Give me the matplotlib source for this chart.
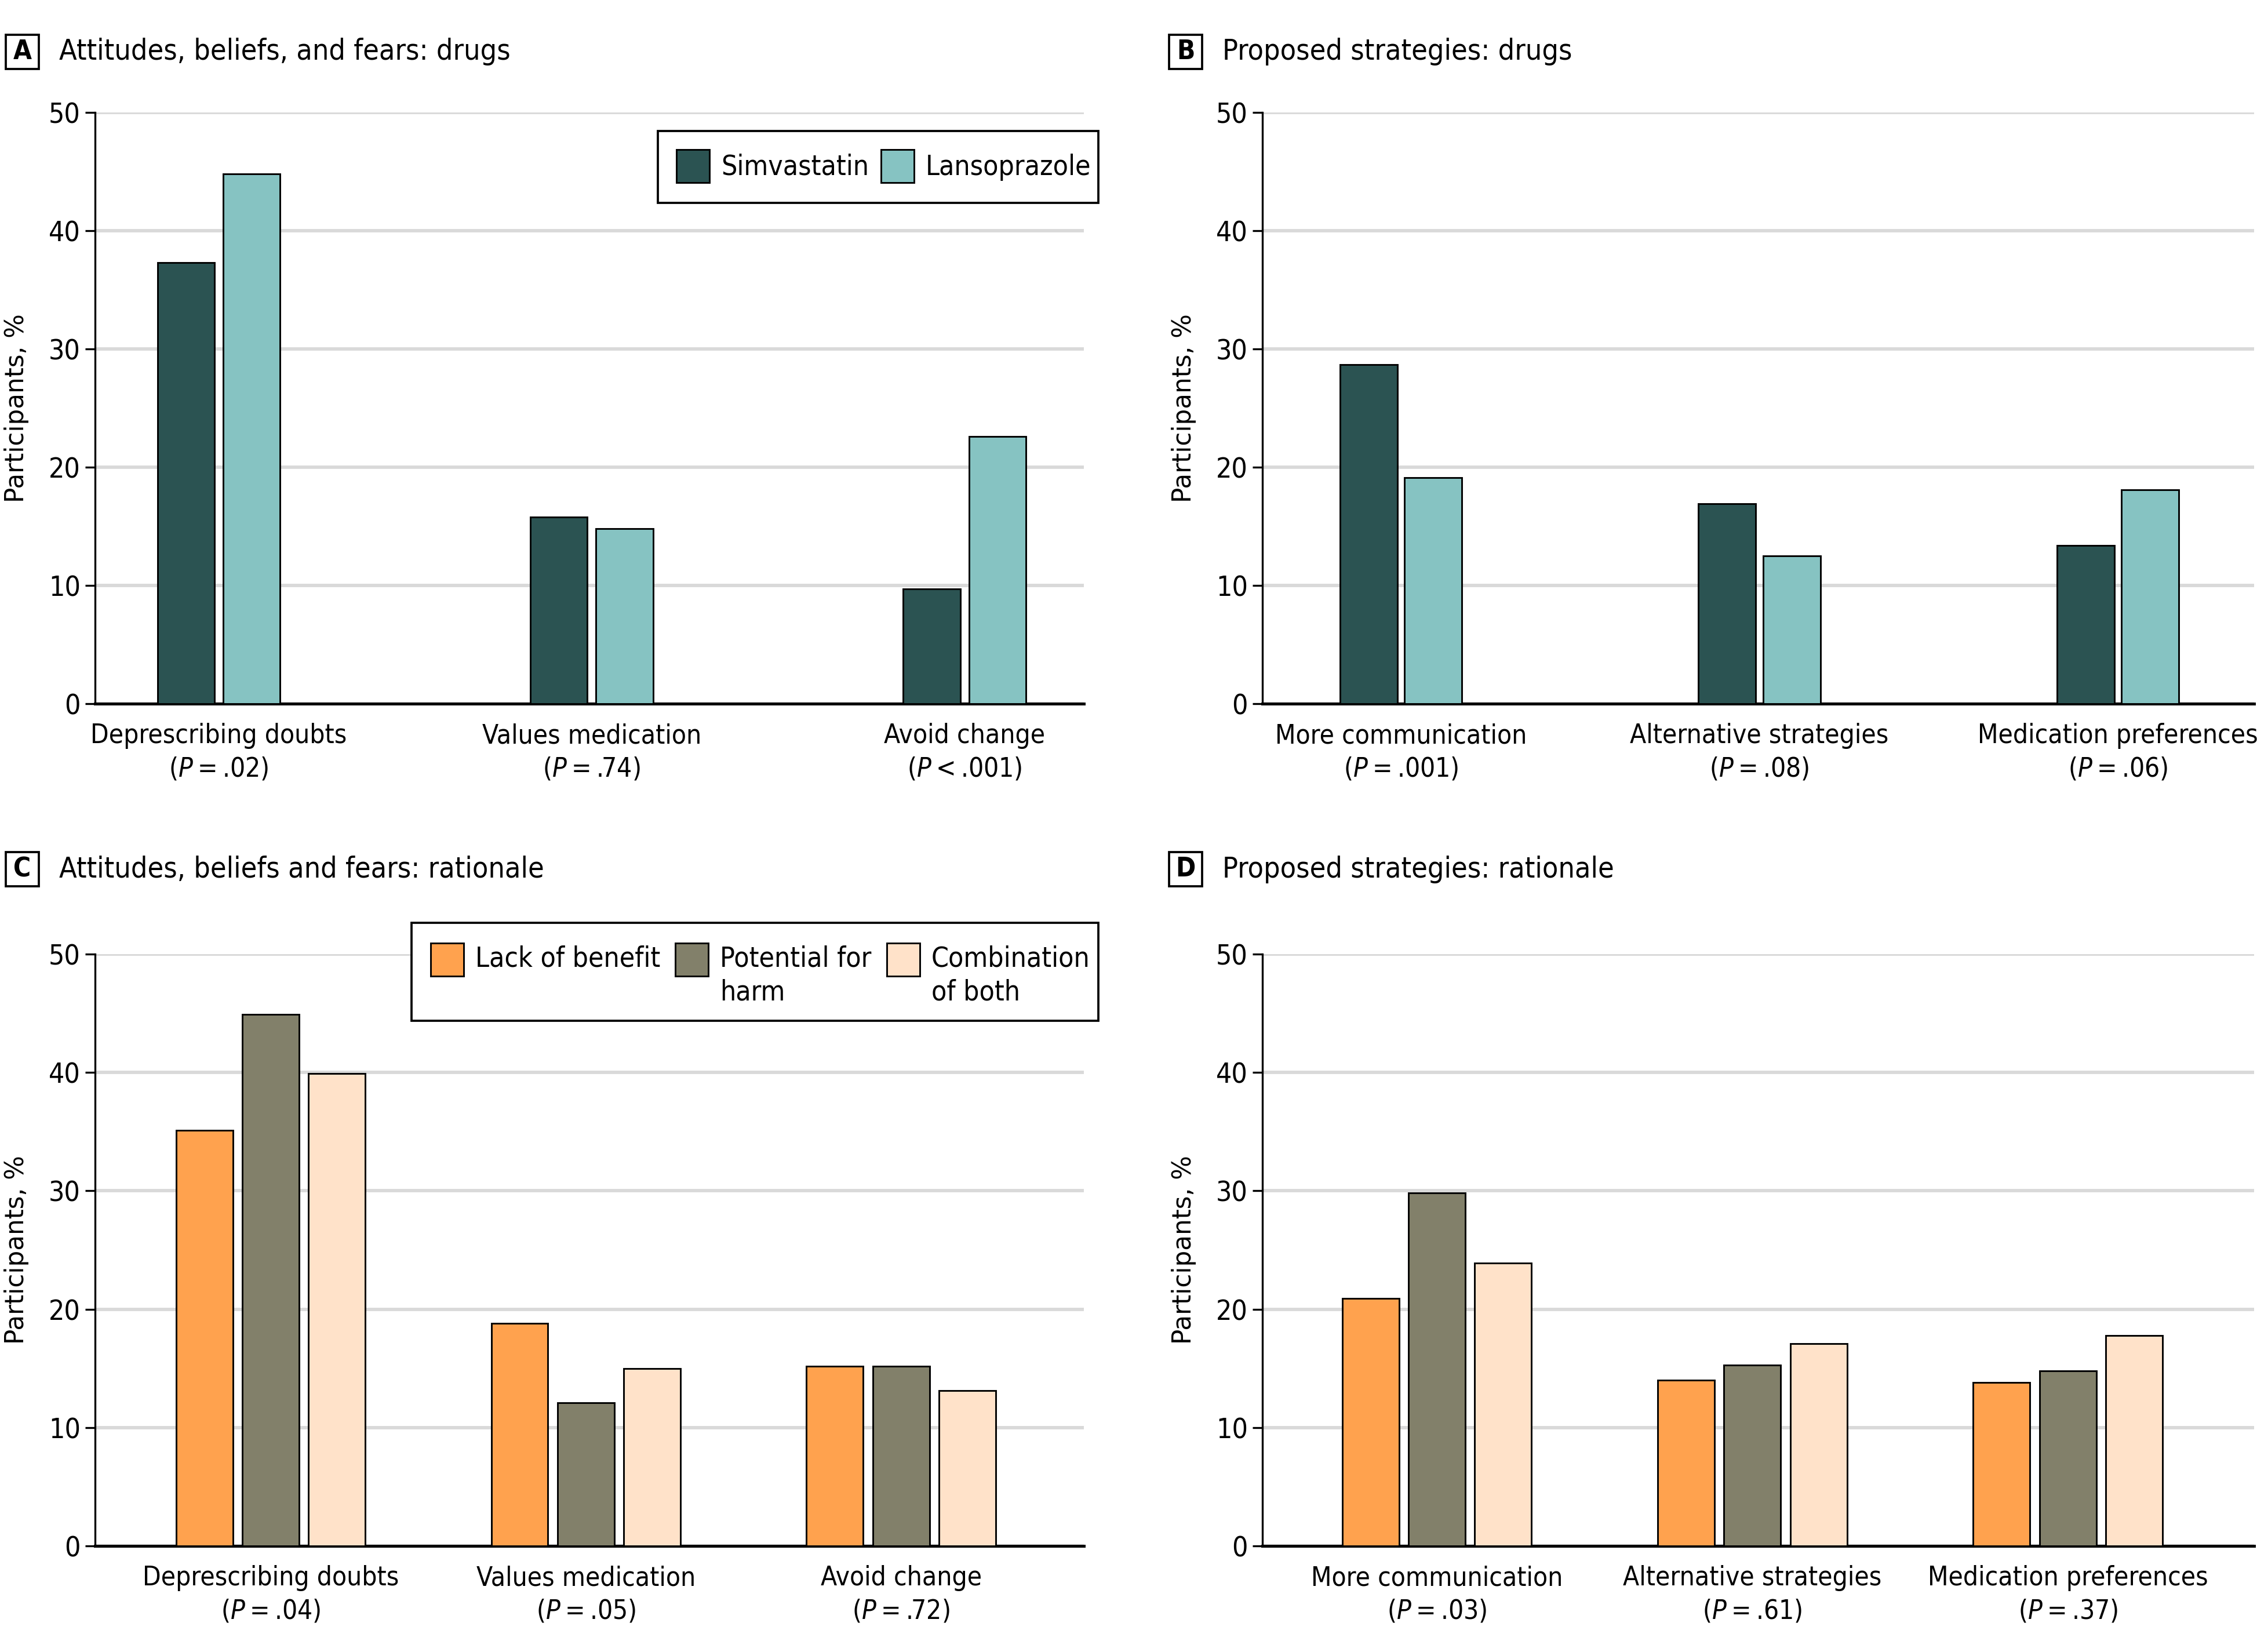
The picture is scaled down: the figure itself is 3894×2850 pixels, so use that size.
import matplotlib
matplotlib.use('Agg')
import matplotlib.pyplot as plt
import matplotlib.font_manager as fm
import numpy as np
from matplotlib.patches import Rectangle

# pick a narrow face if one is installed
cond = [f for f in fm.fontManager.ttflist
        if f.name == 'DejaVu Sans' and f.stretch == 'condensed' and f.style == 'normal']
if cond:
    plt.rcParams['font.family'] = ['DejaVu Sans']
    plt.rcParams['font.stretch'] = 'condensed'
else:
    plt.rcParams['font.family'] = ['Liberation Sans', 'DejaVu Sans']
plt.rcParams['mathtext.fontset'] = 'custom'
plt.rcParams['mathtext.rm'] = plt.rcParams['font.family'][0]
plt.rcParams['mathtext.it'] = plt.rcParams['font.family'][0] + ':italic'

FS = 11

# panel A / B: drug groups
drug_names = ['Simvastatin', 'Lansoprazole']
drug_colors = ['#2b5352', '#86c3c2']
attitude_cats = ['Deprescribing doubts', 'Values medication', 'Avoid change']
attitude_p_drugs = ['=', '=', '<']
attitude_p_vals = ['.02', '.74', '.001']
attitude_simva = [37.3, 15.8, 9.7]
attitude_lanso = [44.8, 14.8, 22.6]

strategy_cats = ['More communication', 'Alternative strategies', 'Medication preferences']
strategy_p_drugs = ['=', '=', '=']
strategy_p_vals = ['.001', '.08', '.06']
strategy_simva = [28.7, 16.9, 13.4]
strategy_lanso = [19.1, 12.5, 18.1]

# panel C / D: rationale groups
rationale_names = ['Lack of benefit', 'Potential for\nharm', 'Combination\nof both']
rationale_colors = ['#ffa24e', '#82806a', '#ffe2c9']
attitude_p_rat = ['.04', '.05', '.72']
attitude_lack = [35.1, 18.8, 15.2]
attitude_harm = [44.9, 12.1, 15.2]
attitude_comb = [39.9, 15.0, 13.1]

strategy_p_rat = ['.03', '.61', '.37']
strategy_lack = [20.9, 14.0, 13.8]
strategy_harm = [29.8, 15.3, 14.8]
strategy_comb = [23.9, 17.1, 17.8]

W, H = 3894, 2850
fig = plt.figure(figsize=(W / 300, H / 300), dpi=300)


def fx(px):
    return px / W


def fy(py):
    return 1 - py / H


def style_axes(ax, xlim, label_px):
    ax.set_ylim(0, 50)
    ax.set_xlim(*xlim)
    ax.set_yticks(range(0, 51, 10))
    ax.yaxis.grid(True, color='#d9d9d9', lw=1.4)
    ax.set_axisbelow(True)
    for s in ['top', 'right']:
        ax.spines[s].set_visible(False)
    ax.spines['left'].set_linewidth(0.8)
    ax.spines['bottom'].set_linewidth(1.2)
    ax.tick_params(axis='y', length=4, width=0.8, labelsize=FS + 0.5, pad=2)
    ax.tick_params(axis='x', length=0, labelsize=FS, pad=8)
    ax.set_ylabel('Participants, %', family='DejaVu Sans', fontstretch='normal',
                  fontsize=10.5)
    left = ax.get_position().x0 * W
    width = ax.get_position().width * W
    ax.yaxis.set_label_coords(-(left - label_px) / width, 0.5)


def draw_bars(ax, series, colors, width, step):
    x = np.arange(len(series[0]))
    n = len(series)
    for i, (vals, c) in enumerate(zip(series, colors)):
        ax.bar(x + (i - (n - 1) / 2) * step, vals, width, color=c,
               edgecolor='black', linewidth=0.7, zorder=3)
    return x


def set_cat_labels(ax, x, cats, signs, vals):
    ax.set_xticks(x)
    ax.set_xticklabels([f'{c}\n($\\it{{P}}$\u2009{s}\u2009{v})'
                        for c, s, v in zip(cats, signs, vals)], linespacing=1.35)


def panel_title(letter, x0, yc, text):
    bw, bh = 57, 59
    fig.add_artist(Rectangle((fx(x0), fy(yc + bh / 2)), bw / W, bh / H,
                             transform=fig.transFigure, fill=False, lw=0.9,
                             edgecolor='black'))
    fig.text(fx(x0 + bw / 2), fy(yc), letter, ha='center', va='center',
             fontsize=FS, fontweight='bold')
    fig.text(fx(x0 + 92), fy(yc), text, ha='left', va='center', fontsize=12)


def box_legend(box, names, colors, patch_x, text_x, patch_y, text_y, va):
    x0, y0, x1, y1 = box
    fig.add_artist(Rectangle((fx(x0), fy(y1)), (x1 - x0) / W, (y1 - y0) / H,
                             transform=fig.transFigure, facecolor='white',
                             edgecolor='black', lw=0.9, zorder=5))
    for name, c, px, tx in zip(names, colors, patch_x, text_x):
        fig.add_artist(Rectangle((fx(px), fy(patch_y + 57)), 57 / W, 57 / H,
                                 transform=fig.transFigure, facecolor=c,
                                 edgecolor='black', lw=0.7, zorder=6))
        fig.text(fx(tx), fy(text_y), name, ha='left', va=va, fontsize=FS + 0.5,
                 zorder=7, linespacing=1.32)


axA = fig.add_axes([fx(164), fy(1214), (1870 - 164) / W, (1214 - 194) / H])
axB = fig.add_axes([fx(2178), fy(1214), (3889 - 2178) / W, (1214 - 194) / H])
axC = fig.add_axes([fx(164), fy(2667), (1870 - 164) / W, (2667 - 1646) / H])
axD = fig.add_axes([fx(2178), fy(2667), (3889 - 2178) / W, (2667 - 1646) / H])

# A
x = draw_bars(axA, [attitude_simva, attitude_lanso], drug_colors, 0.153, 0.176)
style_axes(axA, (-0.332, 2.32), 50)
set_cat_labels(axA, x, attitude_cats, attitude_p_drugs, attitude_p_vals)

# B
x = draw_bars(axB, [strategy_simva, strategy_lanso], drug_colors, 0.16, 0.18)
style_axes(axB, (-0.386, 2.38), 2064)
set_cat_labels(axB, x, strategy_cats, strategy_p_drugs, strategy_p_vals)

# C
x = draw_bars(axC, [attitude_lack, attitude_harm, attitude_comb], rationale_colors, 0.18, 0.21)
style_axes(axC, (-0.557, 2.58), 50)
set_cat_labels(axC, x, attitude_cats, ['='] * 3, attitude_p_rat)

# D
x = draw_bars(axD, [strategy_lack, strategy_harm, strategy_comb], rationale_colors, 0.18, 0.21)
style_axes(axD, (-0.553, 2.59), 2064)
set_cat_labels(axD, x, strategy_cats, ['='] * 3, strategy_p_rat)

box_legend((1135, 226, 1895, 350), drug_names, drug_colors,
           [1167, 1520], [1244, 1597], 258, 288, 'center')
box_legend((710, 1592, 1895, 1761), rationale_names, rationale_colors,
           [743, 1165, 1530], [820, 1242, 1607], 1627, 1630, 'top')

panel_title('A', 10, 89, 'Attitudes, beliefs, and fears: drugs')
panel_title('B', 2017, 89, 'Proposed strategies: drugs')
panel_title('C', 10, 1500, 'Attitudes, beliefs and fears: rationale')
panel_title('D', 2017, 1500, 'Proposed strategies: rationale')

fig.savefig('out.png', dpi=300)
